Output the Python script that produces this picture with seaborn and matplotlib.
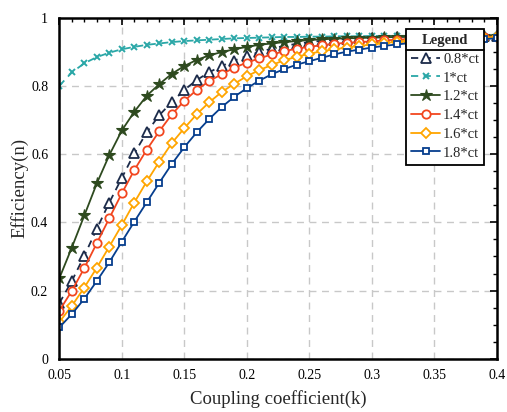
import numpy as np
import pandas as pd
import matplotlib
matplotlib.use("Agg")
import matplotlib.pyplot as plt
import seaborn as sns
from matplotlib.ticker import MultipleLocator
from matplotlib.lines import Line2D

k = [round(0.05 + 0.01 * i, 2) for i in range(36)]

eff_08 = [0.163, 0.228, 0.302, 0.381, 0.458, 0.530, 0.602, 0.664, 0.714, 0.752,
          0.788, 0.817, 0.840, 0.858, 0.874, 0.887, 0.899, 0.909, 0.917, 0.923,
          0.928, 0.932, 0.935, 0.937, 0.939, 0.940, 0.941, 0.942, 0.943, 0.943,
          0.944, 0.944, 0.945, 0.945, 0.945, 0.946]
eff_10 = [0.800, 0.839, 0.866, 0.884, 0.897, 0.907, 0.914, 0.920, 0.924, 0.928,
          0.931, 0.933, 0.935, 0.937, 0.939, 0.940, 0.941, 0.942, 0.943, 0.943,
          0.944, 0.944, 0.945, 0.945, 0.945, 0.946, 0.946, 0.946, 0.946, 0.946,
          0.947, 0.947, 0.947, 0.947, 0.947, 0.947]
eff_12 = [0.236, 0.326, 0.420, 0.514, 0.597, 0.669, 0.724, 0.771, 0.805, 0.835,
          0.858, 0.876, 0.889, 0.899, 0.907, 0.914, 0.920, 0.924, 0.928, 0.931,
          0.934, 0.936, 0.938, 0.939, 0.940, 0.941, 0.942, 0.943, 0.943, 0.944,
          0.944, 0.945, 0.945, 0.945, 0.946, 0.946]
eff_14 = [0.141, 0.199, 0.266, 0.339, 0.412, 0.485, 0.553, 0.613, 0.667, 0.716,
          0.756, 0.788, 0.814, 0.834, 0.853, 0.868, 0.880, 0.892, 0.901, 0.909,
          0.914, 0.919, 0.923, 0.926, 0.928, 0.930, 0.933, 0.935, 0.937, 0.938,
          0.939, 0.940, 0.941, 0.942, 0.943, 0.944]
eff_16 = [0.108, 0.155, 0.209, 0.267, 0.329, 0.392, 0.458, 0.520, 0.578, 0.632,
          0.676, 0.717, 0.752, 0.782, 0.806, 0.828, 0.846, 0.861, 0.875, 0.885,
          0.894, 0.901, 0.907, 0.912, 0.917, 0.921, 0.925, 0.929, 0.931, 0.934,
          0.936, 0.938, 0.939, 0.940, 0.941, 0.942]
eff_18 = [0.092, 0.131, 0.176, 0.228, 0.283, 0.343, 0.402, 0.459, 0.516, 0.571,
          0.620, 0.664, 0.703, 0.738, 0.768, 0.793, 0.815, 0.834, 0.849, 0.862,
          0.872, 0.882, 0.892, 0.900, 0.906, 0.912, 0.917, 0.921, 0.925, 0.928,
          0.930, 0.932, 0.934, 0.936, 0.937, 0.939]

labels = ["0.8*ct", "1*ct", "1.2*ct", "1.4*ct", "1.6*ct", "1.8*ct"]
series = [eff_08, eff_10, eff_12, eff_14, eff_16, eff_18]

styles = [
    dict(color="#1c2b4a", linestyle=(0, (4, 3)), marker="^", markerfacecolor="white",
         markeredgecolor="#1c2b4a", markersize=6.5, markeredgewidth=1.3),
    dict(color="#2aa7a7", linestyle=(0, (4, 3)), marker="x", markerfacecolor="#2aa7a7",
         markeredgecolor="#2aa7a7", markersize=4, markeredgewidth=1.4),
    dict(color="#2e4a1f", linestyle="-", marker="*", markerfacecolor="#2e4a1f",
         markeredgecolor="#2e4a1f", markersize=9, markeredgewidth=0.8),
    dict(color="#f2461f", linestyle="-", marker="o", markerfacecolor="white",
         markeredgecolor="#f2461f", markersize=6, markeredgewidth=1.3),
    dict(color="#ffa500", linestyle="-", marker="D", markerfacecolor="white",
         markeredgecolor="#ffa500", markersize=5, markeredgewidth=1.3),
    dict(color="#063e8e", linestyle="-", marker="s", markerfacecolor="white",
         markeredgecolor="#063e8e", markersize=5, markeredgewidth=1.3),
]

sns.set_style("white")
plt.rcParams["font.family"] = ["Liberation Serif", "DejaVu Serif"]

fig = plt.figure(figsize=(5.07, 4.12), dpi=100)
ax = fig.add_axes([0.117, 0.129, 0.863, 0.8285])

for lab, vals, st in zip(labels, series, styles):
    df = pd.DataFrame({"k": k, "eff": vals})
    sns.lineplot(data=df, x="k", y="eff", ax=ax, label=lab, linewidth=1.3, **st)

ax.set_xlim(0.05, 0.4)
ax.set_ylim(0, 1)
ax.xaxis.set_minor_locator(MultipleLocator(0.01))
ax.yaxis.set_minor_locator(MultipleLocator(0.05))
ax.set_xticks([0.05, 0.1, 0.15, 0.2, 0.25, 0.3, 0.35, 0.4])
ax.set_xticklabels(["0.05", "0.1", "0.15", "0.2", "0.25", "0.3", "0.35", "0.4"])
ax.set_yticks([0, 0.2, 0.4, 0.6, 0.8, 1.0])
ax.set_yticklabels(["0", "0.2", "0.4", "0.6", "0.8", "1"])
ax.tick_params(which="both", direction="in", top=True, right=True, labelsize=10,
               colors="black")
ax.tick_params(which="major", length=5, width=1.2)
ax.tick_params(which="minor", length=3, width=1.0)
ax.tick_params(axis="x", which="major", pad=7)
ax.tick_params(axis="y", which="major", pad=8)
ax.grid(True, which="major", color="#c8c8c8", linestyle=(0, (5, 4)), linewidth=1.0)
for sp in ax.spines.values():
    sp.set_linewidth(1.8)
    sp.set_color("black")

ax.set_xlabel("Coupling coefficient(k)", fontsize=13.5, labelpad=6)
ax.set_ylabel("Efficiency(n)", fontsize=13.5, labelpad=2)

leg = ax.legend(loc="upper right", bbox_to_anchor=(0.978, 0.975), title="Legend",
                fontsize=10.5, title_fontproperties={"weight": "bold", "size": 10.5},
                frameon=True, fancybox=False, edgecolor="black", framealpha=1,
                handlelength=2.0, handletextpad=0.2, labelspacing=0.38,
                borderpad=0.35, borderaxespad=0.2)
leg.get_frame().set_linewidth(1.3)

fig.canvas.draw()
fb = leg.get_frame().get_window_extent()
tb = leg.get_title().get_window_extent()
inv = fig.transFigure.inverted()
x0, _ = inv.transform((fb.x0, 0))
x1, _ = inv.transform((fb.x1, 0))
_, yl = inv.transform((0, tb.y0 - 3))
fig.add_artist(Line2D([x0, x1], [yl, yl], transform=fig.transFigure,
                      color="black", linewidth=1.3, zorder=10))

fig.savefig("out.png", dpi=100)
